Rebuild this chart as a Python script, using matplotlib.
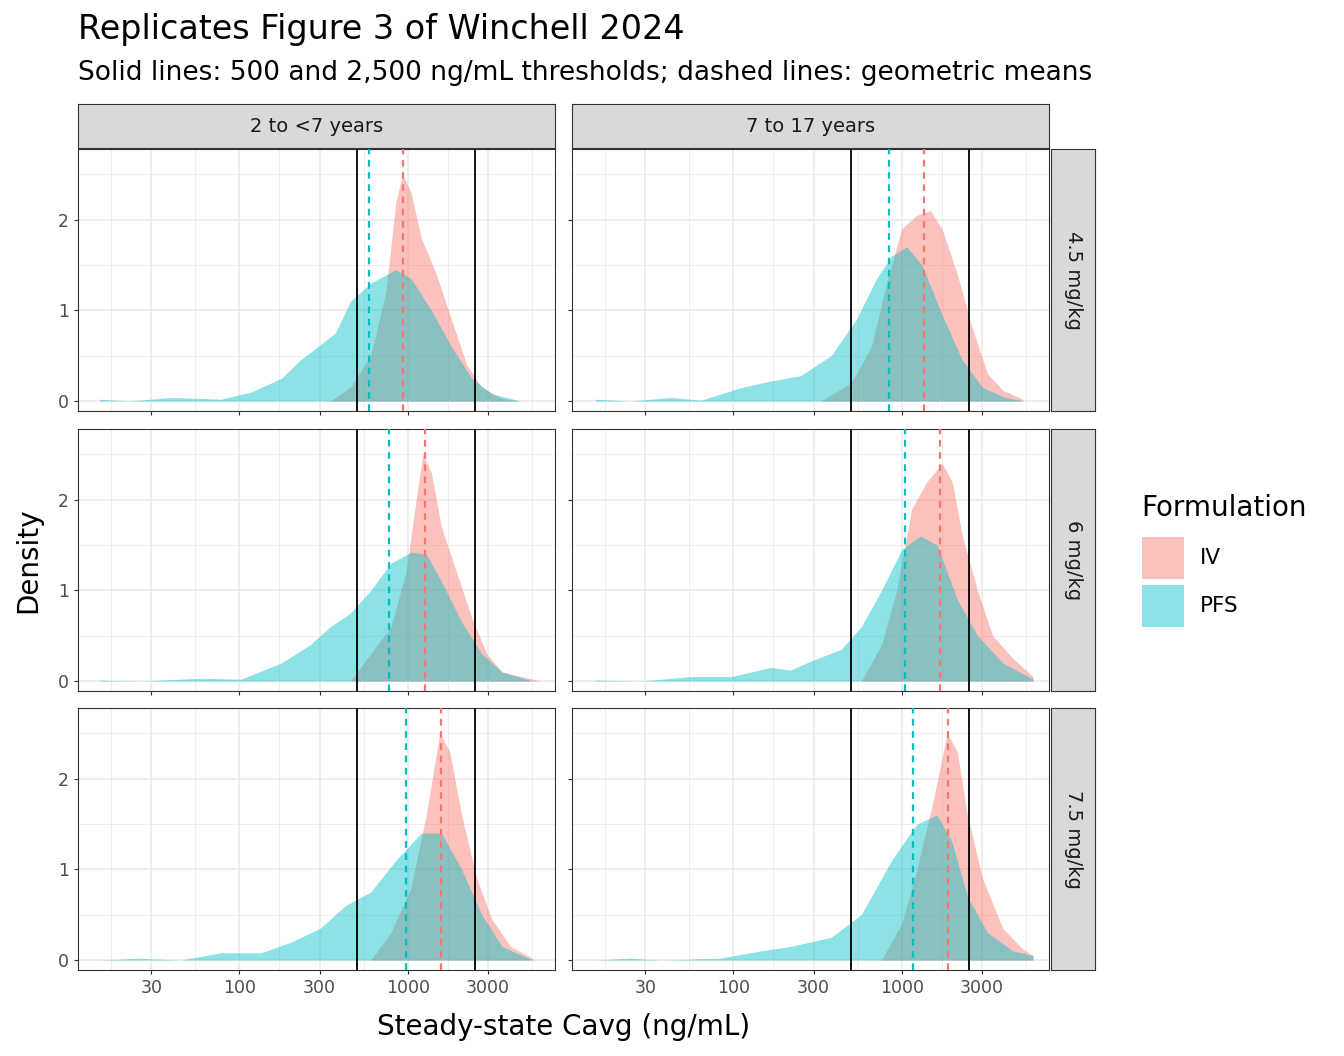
import numpy as np
import matplotlib.pyplot as plt
from matplotlib.patches import Rectangle

ages = ["2 to <7 years", "7 to 17 years"]
doses = ["4.5 mg/kg", "6 mg/kg", "7.5 mg/kg"]
thresholds = [500, 2500]

# geometric means (ng/mL), [dose][age]
gm_iv = [[933, 1355], [1267, 1687], [1578, 1884]]
gm_pfs = [[588, 840], [773, 1045], [975, 1167]]

# density curves: (log10 Cavg, density)
iv_curves = [
    [[(2.54, 0), (2.66, .15), (2.78, .5), (2.87, 1.2), (2.93, 2.2), (2.97, 2.5), (3.02, 2.3), (3.08, 1.8),
      (3.17, 1.4), (3.26, .9), (3.35, .4), (3.44, .15), (3.56, .03), (3.67, 0)],
     [(2.52, 0), (2.70, .2), (2.82, .6), (2.91, 1.3), (3.00, 1.9), (3.09, 2.05), (3.17, 2.1), (3.24, 1.9),
      (3.33, 1.4), (3.42, .8), (3.51, .3), (3.60, .12), (3.72, .02)]],
    [[(2.66, 0), (2.78, .3), (2.90, .6), (2.99, 1.2), (3.05, 2.0), (3.09, 2.5), (3.14, 2.3), (3.20, 1.7),
      (3.29, 1.2), (3.38, .7), (3.47, .3), (3.56, .1), (3.79, 0)],
     [(2.76, 0), (2.88, .4), (2.97, 1.0), (3.06, 1.9), (3.15, 2.2), (3.24, 2.4), (3.30, 2.2), (3.36, 1.6),
      (3.45, 1.0), (3.54, .5), (3.66, .25), (3.78, .05)]],
    [[(2.78, 0), (2.90, .3), (3.02, .8), (3.11, 1.6), (3.19, 2.5), (3.25, 2.3), (3.32, 1.6), (3.41, .9),
      (3.50, .45), (3.61, .15), (3.76, 0)],
     [(2.88, 0), (3.00, .4), (3.09, 1.0), (3.18, 1.7), (3.27, 2.5), (3.33, 2.3), (3.39, 1.6), (3.48, .9),
      (3.60, .35), (3.72, .12), (3.78, .05)]],
]
pfs_curves = [
    [[(1.17, .02), (1.35, 0), (1.59, .04), (1.89, .02), (2.07, .1), (2.25, .25), (2.36, .45), (2.48, .62),
      (2.57, .75), (2.66, 1.1), (2.78, 1.3), (2.93, 1.45), (3.02, 1.35), (3.14, 1.0), (3.26, .6),
      (3.38, .25), (3.50, .08), (3.67, 0)],
     [(1.18, .02), (1.39, 0), (1.63, .04), (1.81, .01), (2.05, .15), (2.22, .22), (2.40, .28), (2.58, .5),
      (2.73, .9), (2.85, 1.35), (2.94, 1.6), (3.03, 1.7), (3.12, 1.5), (3.24, .95), (3.36, .45),
      (3.48, .15), (3.60, .05), (3.72, 0)]],
    [[(1.17, .01), (1.41, 0), (1.77, .03), (2.01, .02), (2.25, .2), (2.42, .4), (2.54, .6), (2.66, .75),
      (2.78, 1.0), (2.90, 1.3), (3.02, 1.42), (3.11, 1.4), (3.20, 1.1), (3.32, .65), (3.44, .3),
      (3.56, .1), (3.74, 0)],
     [(1.18, .01), (1.45, 0), (1.75, .05), (1.99, .05), (2.22, .15), (2.34, .12), (2.46, .22), (2.64, .35),
      (2.76, .6), (2.88, 1.0), (3.00, 1.45), (3.11, 1.6), (3.21, 1.5), (3.33, .9), (3.45, .5),
      (3.60, .2), (3.78, .02)]],
    [[(1.17, 0), (1.41, .02), (1.65, 0), (1.89, .08), (2.13, .08), (2.31, .2), (2.48, .35), (2.63, .6),
      (2.78, .75), (2.93, 1.1), (3.08, 1.4), (3.20, 1.4), (3.32, 1.0), (3.44, .5), (3.56, .15), (3.74, 0)],
     [(1.18, 0), (1.39, .02), (1.57, 0), (1.92, .02), (2.16, .1), (2.34, .15), (2.58, .25), (2.76, .5),
      (2.94, 1.1), (3.09, 1.5), (3.21, 1.6), (3.30, 1.3), (3.39, .7), (3.51, .3), (3.66, .1), (3.78, .05)]],
]

IV_COL, PFS_COL = "#F8766D", "#00BFC4"
W, H = 1344, 1056
fig = plt.figure(figsize=(W / 100, H / 100), dpi=100)


def box(x0, y0, x1, y1):
    return [x0 / W, 1 - y1 / H, (x1 - x0) / W, (y1 - y0) / H]


cols = [(78, 555), (572, 1049)]
rows = [(149, 411), (429, 691), (708, 970)]
major = [30, 100, 300, 1000, 3000]
minor = [17.3, 54.8, 173, 548, 1732, 5477]

for r, (y0, y1) in enumerate(rows):
    for c, (x0, x1) in enumerate(cols):
        ax = fig.add_axes(box(x0, y0, x1, y1))
        ax.set_xscale("log")
        ax.set_xlim(11, 7500)
        ax.set_ylim(-0.11, 2.78)
        for v in minor:
            ax.axvline(v, color="#EBEBEB", lw=0.6, zorder=0)
        for v in major:
            ax.axvline(v, color="#EBEBEB", lw=1.2, zorder=0)
        for v in [0.5, 1.5, 2.5]:
            ax.axhline(v, color="#EBEBEB", lw=0.6, zorder=0)
        for v in [0, 1, 2]:
            ax.axhline(v, color="#EBEBEB", lw=1.2, zorder=0)
        for pts, col in [(iv_curves[r][c], IV_COL), (pfs_curves[r][c], PFS_COL)]:
            lx, d = zip(*pts)
            ax.fill_between(10 ** np.array(lx), 0, d, color=col, alpha=0.45, lw=0, zorder=2)
        for t in thresholds:
            ax.axvline(t, color="black", lw=1.3, zorder=3)
        ax.axvline(gm_pfs[r][c], color=PFS_COL, lw=1.6, ls=(0, (3, 2.5)), zorder=3)
        ax.axvline(gm_iv[r][c], color=IV_COL, lw=1.6, ls=(0, (3, 2.5)), zorder=3)
        ax.minorticks_off()
        ax.set_xticks(major)
        ax.set_yticks([0, 1, 2])
        ax.tick_params(colors="#333333", labelsize=12.5, length=3, width=0.8, labelcolor="#4D4D4D")
        if r < 2:
            ax.set_xticklabels([])
        else:
            ax.set_xticklabels([str(v) for v in major])
        if c == 1:
            ax.set_yticklabels([])
        for s in ax.spines.values():
            s.set_color("#333333")
            s.set_linewidth(0.8)
        if c == 1:
            sax = fig.add_axes(box(1051, y0, 1095, y1))
            sax.set_facecolor("#D9D9D9")
            sax.set_xticks([]); sax.set_yticks([])
            for s in sax.spines.values():
                s.set_color("#333333"); s.set_linewidth(0.8)
            sax.text(0.5, 0.5, doses[r], rotation=-90, ha="center", va="center", fontsize=14,
                     color="#1A1A1A", transform=sax.transAxes)
        if r == 0:
            sax = fig.add_axes(box(x0, 104, x1, 148))
            sax.set_facecolor("#D9D9D9")
            sax.set_xticks([]); sax.set_yticks([])
            for s in sax.spines.values():
                s.set_color("#333333"); s.set_linewidth(0.8)
            sax.text(0.5, 0.5, ages[c], ha="center", va="center", fontsize=14,
                     color="#1A1A1A", transform=sax.transAxes)

fig.text(78 / W, 1 - 30 / H, "Replicates Figure 3 of Winchell 2024", fontsize=24, va="center")
fig.text(78 / W, 1 - 73 / H, "Solid lines: 500 and 2,500 ng/mL thresholds; dashed lines: geometric means",
         fontsize=19, va="center")
fig.text(564 / W, 1 - 1027 / H, "Steady-state Cavg (ng/mL)", fontsize=20, ha="center", va="center")
fig.text(28 / W, 1 - 560 / H, "Density", fontsize=20, rotation=90, ha="center", va="center")

fig.text(1141 / W, 1 - 508 / H, "Formulation", fontsize=20, va="center")
for i, (lab, col) in enumerate([("IV", IV_COL), ("PFS", PFS_COL)]):
    yt = 537 + i * 48
    fig.add_artist(Rectangle((1142 / W, 1 - (yt + 42) / H), 42 / W, 42 / H, transform=fig.transFigure,
                             facecolor=col, alpha=0.45, lw=0))
    fig.text(1200 / W, 1 - (yt + 21) / H, lab, fontsize=15.5, va="center")

fig.savefig("out.png", dpi=100)
